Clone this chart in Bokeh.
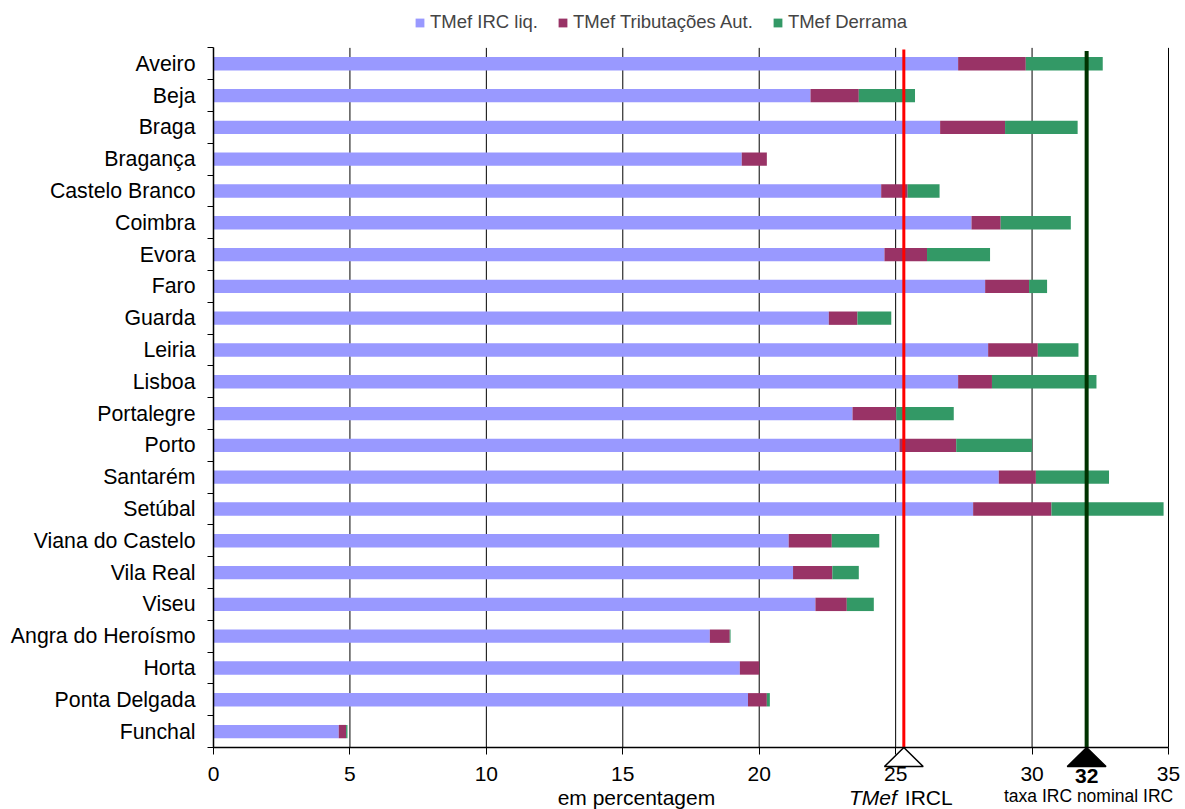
from bokeh.plotting import figure
from bokeh.models import (Range1d, FixedTicker, Label, Legend, LegendItem, ColumnDataSource)
from bokeh.embed import file_html
from bokeh.resources import INLINE

# ---------------- data ----------------
cities = ["Aveiro", "Beja", "Braga", "Bragança", "Castelo Branco", "Coimbra",
          "Evora", "Faro", "Guarda", "Leiria", "Lisboa", "Portalegre", "Porto",
          "Santarém", "Setúbal", "Viana do Castelo", "Vila Real", "Viseu",
          "Angra do Heroísmo", "Horta", "Ponta Delgada", "Funchal"]
irc_liq = [27.29, 21.88, 26.63, 19.36, 24.47, 27.78, 24.59, 28.28, 22.55, 28.39,
           27.29, 23.42, 25.14, 28.78, 27.84, 21.08, 21.24, 22.06, 18.19, 19.29,
           19.59, 4.59]
trib_aut = [2.48, 1.77, 2.38, 0.92, 0.97, 1.07, 1.56, 1.61, 1.05, 1.82, 1.24,
            1.60, 2.08, 1.36, 2.87, 1.58, 1.44, 1.15, 0.73, 0.71, 0.69, 0.27]
derrama = [2.82, 2.06, 2.66, 0.0, 1.17, 2.57, 2.31, 0.66, 1.24, 1.49, 3.83,
           2.11, 2.78, 2.68, 4.11, 1.74, 0.97, 0.99, 0.03, 0.0, 0.11, 0.05]
series_labels = ["TMef IRC liq.", "TMef Tributações Aut.", "TMef Derrama"]
series_colors = ["#9999FF", "#993366", "#339966"]
tmef_ircl = 25.3
taxa_nominal = 32
x_ticks = [0, 5, 10, 15, 20, 25, 30, 35]

# ---------------- figure ----------------
FONT = "Liberation Sans"
n = len(cities)
ypos = [n - 1 - i for i in range(n)]
y_lo, y_hi = -0.5, n - 0.5          # category band extent
x_lo, x_hi = x_ticks[0], x_ticks[-1]
source = ColumnDataSource(dict(y=ypos, irc=irc_liq, trib=trib_aut, der=derrama))

# the whole canvas is the plotting frame; axes are pinned inside it
p = figure(width=1185, height=809,
           x_range=Range1d(x_lo - 7.806, x_hi + 0.623),
           y_range=Range1d(y_lo - 1.95, y_hi + 1.49), output_backend="svg",
           toolbar_location=None, min_border_left=0, min_border_right=0,
           min_border_top=0, min_border_bottom=0)
p.outline_line_color = None
p.background_fill_color = "white"
p.xgrid.grid_line_color = None
p.ygrid.grid_line_color = None

# vertical grid lines (only across the category area)
p.segment(x0=x_ticks, y0=y_lo, x1=x_ticks, y1=y_hi, line_color="black", line_width=1)

renderers = p.hbar_stack(["irc", "trib", "der"], y="y", height=0.42,
                         color=series_colors, line_color=None, source=source)

# x axis drawn at the bottom of the category area
xa = p.xaxis[0]
xa.fixed_location = y_lo
xa.bounds = (x_lo, x_hi)
xa.ticker = FixedTicker(ticks=x_ticks)
xa.major_tick_out = 7
xa.major_tick_in = 0
xa.minor_tick_line_color = None
xa.axis_line_width = 1.5
xa.axis_line_color = "black"
xa.major_tick_line_color = "black"
xa.major_label_text_font = FONT
xa.major_label_text_font_size = "21px"
xa.major_label_text_color = "black"
xa.major_label_standoff = 13

# y axis drawn at x = 0
ya = p.yaxis[0]
ya.fixed_location = x_lo
ya.bounds = (y_lo, y_hi)
ya.ticker = FixedTicker(ticks=ypos, minor_ticks=[k - 0.5 for k in range(n + 1)])
ya.major_tick_out = 0
ya.major_tick_in = 0
ya.minor_tick_out = 6
ya.minor_tick_in = 0
ya.minor_tick_line_color = "black"
ya.axis_line_width = 1.5
ya.axis_line_color = "black"
ya.major_label_overrides = {y: c for y, c in zip(ypos, cities)}
ya.major_label_text_font = FONT
ya.major_label_text_font_size = "21.3px"
ya.major_label_text_color = "black"
ya.major_label_standoff = 12

# reference lines
p.segment(x0=[tmef_ircl], y0=[y_lo], x1=[tmef_ircl], y1=[y_hi - 0.05],
          line_color="#FF0000", line_width=3)
p.segment(x0=[taxa_nominal], y0=[y_lo], x1=[taxa_nominal], y1=[y_hi - 0.1],
          line_color="#003300", line_width=4)

# triangle markers below the axis
tri_h = 0.6
tri_hw = 0.71
p.patch([tmef_ircl, tmef_ircl - tri_hw, tmef_ircl + tri_hw],
        [y_lo, y_lo - tri_h, y_lo - tri_h], fill_color="white", line_color="black",
        line_width=1.5)
p.patch([taxa_nominal, taxa_nominal - tri_hw, taxa_nominal + tri_hw],
        [y_lo, y_lo - tri_h, y_lo - tri_h], fill_color="black", line_color="black",
        line_width=1.5)

# annotation texts
def lab(x, y, text, size="21px", align="center", style="normal", xoff=0):
    p.add_layout(Label(x=x, y=y, text=text, text_font=FONT, text_font_size=size,
                       text_align=align, text_baseline="middle", text_font_style=style,
                       text_color="black", x_offset=xoff))

lab(taxa_nominal, y_lo - 0.91, str(taxa_nominal), style="bold")
lab(tmef_ircl, y_lo - 1.58, "TMef", align="right", style="italic", xoff=-7)
lab(tmef_ircl, y_lo - 1.58, "IRCL", align="left", xoff=1)
lab(32.07, y_lo - 1.51, "taxa IRC nominal IRC", size="17.5px")
lab(15.5, y_lo - 1.57, "em percentagem")

# legend (above the category area)
legend = Legend(items=[LegendItem(label=l, renderers=[r]) for l, r in zip(series_labels, renderers)],
                orientation="horizontal", location=(414, 776), glyph_width=11, glyph_height=11,
                label_standoff=5, spacing=19, padding=0, margin=0,
                label_text_font=FONT, label_text_font_size="18.5px",
                border_line_color=None, background_fill_alpha=0)
p.add_layout(legend)

open("out.html", "w").write(file_html(p, INLINE))
